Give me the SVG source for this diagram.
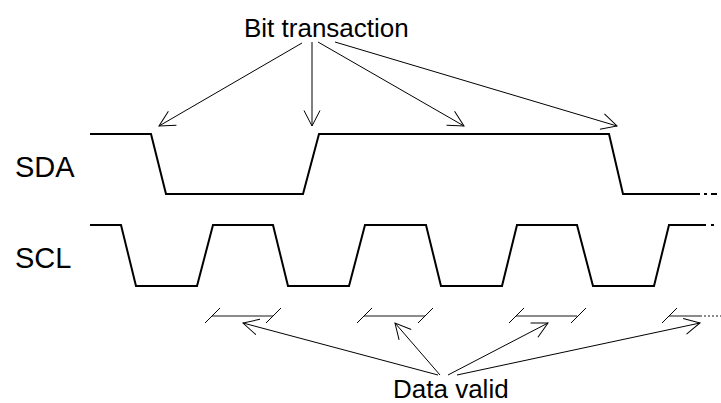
<svg xmlns="http://www.w3.org/2000/svg" width="721" height="403" viewBox="0 0 721 403">
<style>
.sig{fill:none;stroke:#000;stroke-width:2;stroke-linejoin:miter}
.arr{fill:none;stroke:#000;stroke-width:1}
.bar{fill:none;stroke:#666;stroke-width:1.6}
.tick{fill:none;stroke:#000;stroke-width:1}
.lbl{font-family:"Liberation Sans",Arial,sans-serif;fill:#000}
</style>
<defs>
<marker id="ah" markerUnits="userSpaceOnUse" viewBox="0 0 17 18" refX="16" refY="9" markerWidth="17" markerHeight="18" orient="auto">
<path d="M0.5,1 L16,9 L0.5,17" fill="none" stroke="#000" stroke-width="1"/>
</marker>
</defs>
<rect width="721" height="403" fill="#fff"/>
<g id="label-sda"><text class="lbl" x="15" y="177" font-size="29">SDA</text></g>
<g id="label-scl"><text class="lbl" x="15" y="268" font-size="29">SCL</text></g>
<g id="sda">
<path class="sig" d="M90,134 H151 L166,194 H303 L319,134 H609 L623,194 H700"/>
<path class="sig" d="M704,194 H707 M711,194 H717"/>
</g>
<g id="scl">
<path class="sig" d="M90,225 H121 L136,286 H197 L213,225 H273 L288,286 H349 L365,225 H426 L441,286 H502 L517,225 H577 L593,286 H654 L669,225 H706"/>
<path class="sig" d="M711,225 H714"/>
</g>
<g id="data-valid-bars">
<path class="bar" d="M212,316 H273 M364,316 H425 M516,316 H577 M669,316 H700"/>
<path class="bar" d="M700,316 H721" stroke-dasharray="2,2"/>
<path class="tick" d="M205,323 L220,308 M266,323 L281,308 M357,323 L372,308 M418,323 L433,308 M509,323 L524,308 M571,323 L586,308 M662,323 L677,308"/>
</g>
<g id="label-bit"><text class="lbl" x="244" y="37" font-size="26">Bit transaction</text></g>
<g id="label-valid"><text class="lbl" x="393" y="398" font-size="26">Data valid</text></g>
<g id="connectors">
<line class="arr" x1="302" y1="43" x2="159" y2="126" marker-end="url(#ah)"/>
<line class="arr" x1="312" y1="42" x2="312" y2="126" marker-end="url(#ah)"/>
<line class="arr" x1="318" y1="42" x2="464" y2="126" marker-end="url(#ah)"/>
<line class="arr" x1="335" y1="42" x2="617" y2="126" marker-end="url(#ah)"/>
<line class="arr" x1="438" y1="375" x2="243" y2="323" marker-end="url(#ah)"/>
<line class="arr" x1="440" y1="375" x2="395" y2="323" marker-end="url(#ah)"/>
<line class="arr" x1="448" y1="375" x2="548" y2="323" marker-end="url(#ah)"/>
<line class="arr" x1="457" y1="375" x2="700" y2="323" marker-end="url(#ah)"/>
</g>
</svg>
